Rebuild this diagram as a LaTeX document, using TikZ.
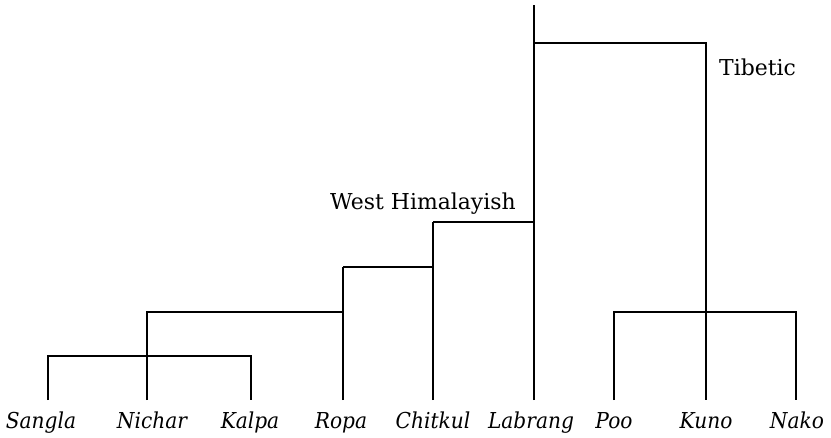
\documentclass[tikz,border=0pt]{standalone}
\usepackage{fontspec}
\setmainfont{DejaVu Serif}
\newfontfamily\leaffont[FakeStretch=0.92]{DejaVu Serif}
\begin{document}
\begin{tikzpicture}[x=1bp,y=-1bp,
  br/.style={line width=1.6bp,line cap=butt,line join=miter},
  leaf/.style={anchor=base,inner sep=0pt,font=\leaffont\fontsize{22}{26}\selectfont\itshape},
  grp/.style={anchor=base west,inner sep=0pt,font=\fontsize{22}{26}\selectfont}]
\useasboundingbox (0,0) rectangle (831,438);
% leaf stem tops
\coordinate (s) at (48,400);
\coordinate (ni) at (147,400);
\coordinate (k) at (251,400);
\coordinate (r) at (343,400);
\coordinate (c) at (433,400);
\coordinate (l) at (534,400);
\coordinate (p) at (614,400);
\coordinate (ku) at (706,400);
\coordinate (na) at (796,400);
% leaf labels
\node[leaf] (Ls) at (41,428) {Sangla};
\node[leaf] (Lni) at (152,428) {Nichar};
\node[leaf] (Lk) at (250,428) {Kalpa};
\node[leaf] (Lr) at (341,428) {Ropa};
\node[leaf] (Lc) at (433,428) {Chitkul};
\node[leaf] (Ll) at (531,428) {Labrang};
\node[leaf] (Lp) at (614,428) {Poo};
\node[leaf] (Lku) at (706,428) {Kuno};
\node[leaf] (Lna) at (797,428) {Nako};
% junctions
\coordinate (j1) at (147,356);
\coordinate (j2) at (147,312);
\coordinate (j3) at (343,312);
\coordinate (j4) at (343,267);
\coordinate (j5) at (433,267);
\coordinate (j6) at (433,222);
\coordinate (j7) at (534,222);
\coordinate (j8) at (534,43);
\coordinate (root) at (534,5);
\coordinate (j9) at (706,43);
\coordinate (j10) at (706,312);
% branches
\draw[br] (s) |- (j1) -| (k);
\draw[br] (ni) -- (j2) -| (j4);
\draw[br] (r) -- (j3);
\draw[br] (j4) -| (j6);
\draw[br] (c) -- (j5);
\draw[br] (j6) -| (root);
\draw[br] (l) -- (j7);
\draw[br] (j8) -| (ku);
\draw[br] (p) |- (j10) -| (na);
% group labels
\node[grp] (wh) at (330,210) {West Himalayish};
\node[grp] (tib) at (719,76) {Tibetic};
\end{tikzpicture}
\end{document}
